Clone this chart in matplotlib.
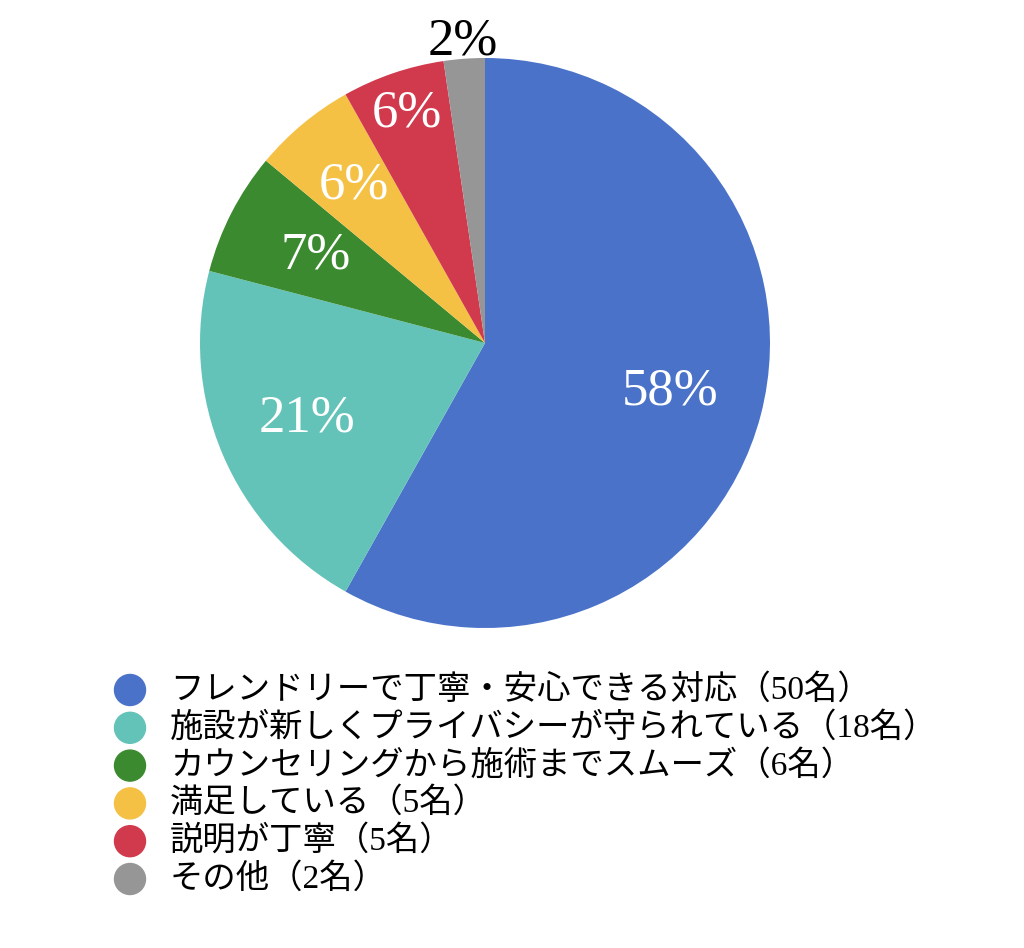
import numpy as np
import matplotlib
matplotlib.use("Agg")
import matplotlib.pyplot as plt
from matplotlib.patches import Ellipse

# data
labels = ["フレンドリーで丁寧・安心できる対応", "施設が新しくプライバシーが守られている",
          "カウンセリングから施術までスムーズ", "満足している", "説明が丁寧", "その他"]
counts = [50, 18, 6, 5, 5, 2]
colors = ["#4A72C9", "#63C3B9", "#3C8A30", "#F4C144", "#D13A4C", "#969696"]

# label placement (radius factor), text colour
label_r = [0.67, 0.68, 0.67, 0.72, 0.85, 1.06]
label_c = ["white", "white", "white", "white", "white", "black"]

fam = ["Liberation Serif", "Noto Sans CJK JP"]

fig = plt.figure(figsize=[10.24, 9.48], dpi=100)
ax = fig.add_axes([200/1024, 1-628/948, 570/1024, 570/948])
wedges, _ = ax.pie(counts, colors=colors, startangle=90, counterclock=False,
                   radius=1, wedgeprops=dict(linewidth=0))
ax.set_xlim(-1, 1)
ax.set_ylim(-1, 1)
ax.set_aspect("equal")
ax.axis("off")

total = sum(counts)
cum = 0
for i, c in enumerate(counts):
    mid = (cum + c/2) / total * 360
    cum += c
    ang = np.deg2rad(90 - mid)
    r = label_r[i]
    ax.text(r*np.cos(ang), r*np.sin(ang), "%d%%" % round(c/total*100),
            ha="center", va="center", fontsize=38, color=label_c[i],
            family=fam)

#legend drawn by hand
y0 = 1 - 690/948
dy = 37.8/948
for i, lab in enumerate(labels):
    y = y0 - i*dy
    fig.patches.append(Ellipse((130/1024, y), 31/1024, 31/948,
                               transform=fig.transFigure, color=colors[i]))
    fig.text(170/1024, y, "%s（%d名）" % (lab, counts[i]), ha="left",
             va="center", fontsize=24, family=fam)

plt.savefig("out.png", dpi=100)
